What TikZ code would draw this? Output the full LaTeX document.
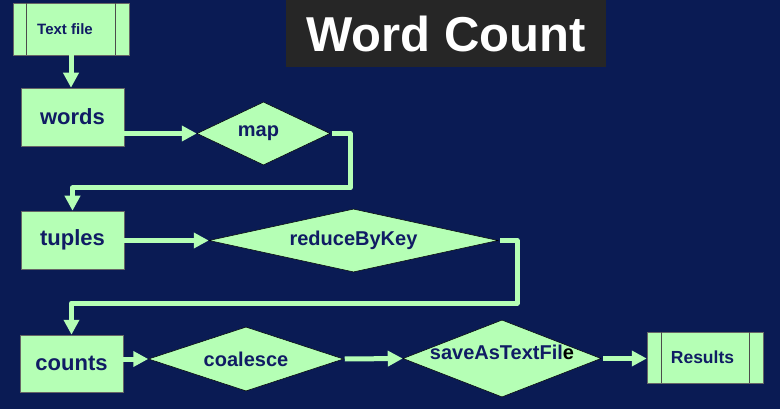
\documentclass[tikz,border=0pt]{standalone}
\usepackage{fontspec}
\setmainfont{Liberation Sans}
\usetikzlibrary{shapes.geometric,arrows.meta,calc}
\definecolor{bg}{RGB}{10,27,84}
\definecolor{lg}{RGB}{181,255,181}
\definecolor{tx}{RGB}{16,28,100}
\definecolor{tb}{RGB}{38,38,38}
\begin{document}
\begin{tikzpicture}[x=1pt,y=-1pt,
  box/.style={rectangle, draw=black!60, line width=0.5pt, fill=lg, text=tx, inner sep=0pt, font=\bfseries\fontsize{22}{24}\selectfont},
  iobox/.style={box, font=\bfseries\fontsize{15}{17}\selectfont},
  diam/.style={diamond, draw=black, line width=0.5pt, fill=lg, text=tx, inner sep=0pt, font=\bfseries\fontsize{20}{22}\selectfont},
  conn/.style={draw=lg, line width=5pt, line join=round},
  arr/.style={conn, -{Triangle[width=15pt,length=15pt]}},
  sidel/.style={draw=black!70, line width=0.6pt}]
\useasboundingbox (0,0) rectangle (780,409);
\fill[bg] (0,0) rectangle (780,409);

% title
\node[fill=tb, minimum width=320pt, minimum height=67pt, inner sep=0pt, text=white, font=\bfseries\fontsize{49}{52}\selectfont] (title) at (446,33.5) {Word Count};

% boxes
\node[iobox, minimum width=116pt, minimum height=52pt] (tf) at (71,29) {Text file\kern12pt};
\draw[sidel] ($(tf.north west)+(14,0)$) -- ($(tf.south west)+(14,0)$);
\draw[sidel] ($(tf.north east)+(-14,0)$) -- ($(tf.south east)+(-14,0)$);

\node[box, minimum width=103pt, minimum height=58pt] (words) at (72.5,117) {words};
\node[box, minimum width=103pt, minimum height=58pt] (tuples) at (72.5,240) {tuples};
\node[box, minimum width=103pt, minimum height=57pt] (counts) at (71.5,363.5) {counts};

\node[iobox, font=\bfseries\fontsize{17.5}{19}\selectfont, minimum width=116pt, minimum height=51pt] (res) at (705,357.5) {Results\kern5pt};
\draw[sidel] ($(res.north west)+(15,0)$) -- ($(res.south west)+(15,0)$);
\draw[sidel] ($(res.north east)+(-14,0)$) -- ($(res.south east)+(-14,0)$);

% diamonds
\node[diam, aspect=2.11, minimum width=133pt, minimum height=63pt] (map) at (263.5,133.5) {\raisebox{-1.5pt}{map\kern10pt}};
\node[diam, aspect=4.59, minimum width=289pt, minimum height=63pt] (rbk) at (353.5,240.5) {\raisebox{-1.5pt}{reduceByKey}};
\node[diam, aspect=3.05, minimum width=195pt, minimum height=64pt] (coal) at (246,359) {\raisebox{-1.5pt}{coalesce}};
\node[diam, aspect=2.57, minimum width=198pt, minimum height=77pt] (save) at (502,358.5) {\raisebox{-2.5pt}{\smash{saveAsTextFil{\color{black}e}}}};

% connectors
\draw[arr] (tf.south) -- (tf.south |- words.north);
\draw[arr] (words.east |- map.west) -- (map.west);
\coordinate (m1) at (350,133.5);
\coordinate (m2) at (350,188);
\draw[arr] ([xshift=2pt]map.east) -- (m1) -- (m2) -| (tuples.north);
\draw[arr] (tuples.east |- rbk.west) -- (rbk.west);
\coordinate (r1) at (517,240.5);
\coordinate (r2) at (517,303);
\draw[arr] ([xshift=2pt]rbk.east) -- (r1) -- (r2) -| (counts.north);
\draw[arr] (counts.east |- coal.west) -- (coal.west);
\draw[arr] ([xshift=1pt]coal.east) -- (save.west);
\draw[arr] ([xshift=2pt]save.east) -- (save.east -| res.west);
\end{tikzpicture}
\end{document}
